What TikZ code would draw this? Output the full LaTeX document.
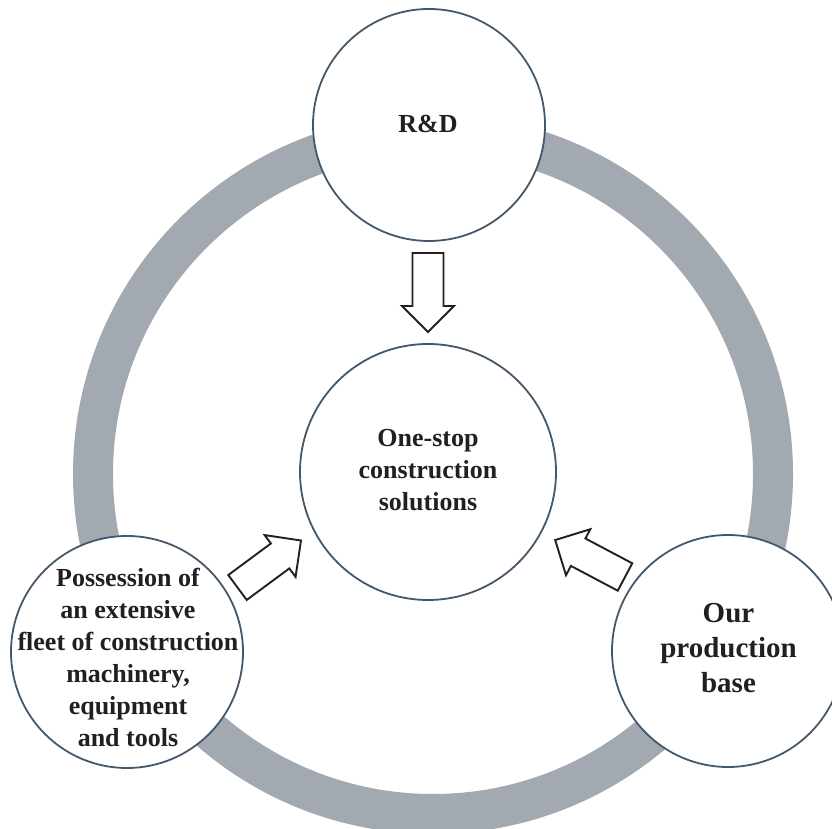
\documentclass[tikz,border=0pt]{standalone}
\usepackage{fontspec}
\setmainfont{Liberation Serif}
\definecolor{ringgray}{RGB}{163,169,177}
\definecolor{rimblue}{RGB}{68,88,108}
\definecolor{inkblack}{RGB}{35,31,32}
\begin{document}
\begin{tikzpicture}[x=1pt,y=1pt,
  bubble/.style={circle,draw=rimblue,line width=1.8pt,fill=white,minimum size=232pt,inner sep=0pt},
  corebubble/.style={bubble,minimum size=256pt},
  label26/.style={align=center,text=inkblack,font=\fontsize{26}{32}\selectfont\bfseries,inner sep=0pt},
  label29/.style={align=center,text=inkblack,font=\fontsize{29}{35}\selectfont\bfseries,inner sep=0pt},
  blockarrow/.style={draw=inkblack,line width=1.9pt,fill=white,line join=miter}]
\useasboundingbox (0,0) rectangle (832,829);
\clip (0,0) rectangle (832,829);

% grey ring joining the three outer stages
\draw[ringgray,line width=40pt] (433,355) circle[radius=340];

% stage circles
\node[bubble] (rd) at (429,704) {};
\node[corebubble] (core) at (428,357) {};
\node[bubble] (fleet) at (127,177) {};
\node[bubble] (base) at (728,178) {};

% circle texts
\node[label26] (rdtext) at (428,705) {R\&D};
\node[label26] (coretext) at (428,359) {One-stop\\construction\\solutions};
\node[label26] (fleettext) at (128,171.5) {Possession of\\an extensive\\fleet of construction\\machinery,\\equipment\\and tools};
\node[label29] (basetext) at (728.5,180.5) {Our\\production\\base};

% hollow block arrows pointing at the core circle
\draw[blockarrow,shift={(428,576)},rotate=-90]
  (0,-15.5) -- (53,-15.5) -- (53,-26) -- (79,0) -- (53,26) -- (53,15.5) -- (0,15.5) -- cycle;
\draw[blockarrow,shift={(237.5,241.5)},rotate=36.5]
  (0,-15.5) -- (53,-15.5) -- (53,-26) -- (79,0) -- (53,26) -- (53,15.5) -- (0,15.5) -- cycle;
\draw[blockarrow,shift={(625,252)},rotate=152.1]
  (0,-15.5) -- (53,-15.5) -- (53,-26) -- (79,0) -- (53,26) -- (53,15.5) -- (0,15.5) -- cycle;
\end{tikzpicture}
\end{document}
